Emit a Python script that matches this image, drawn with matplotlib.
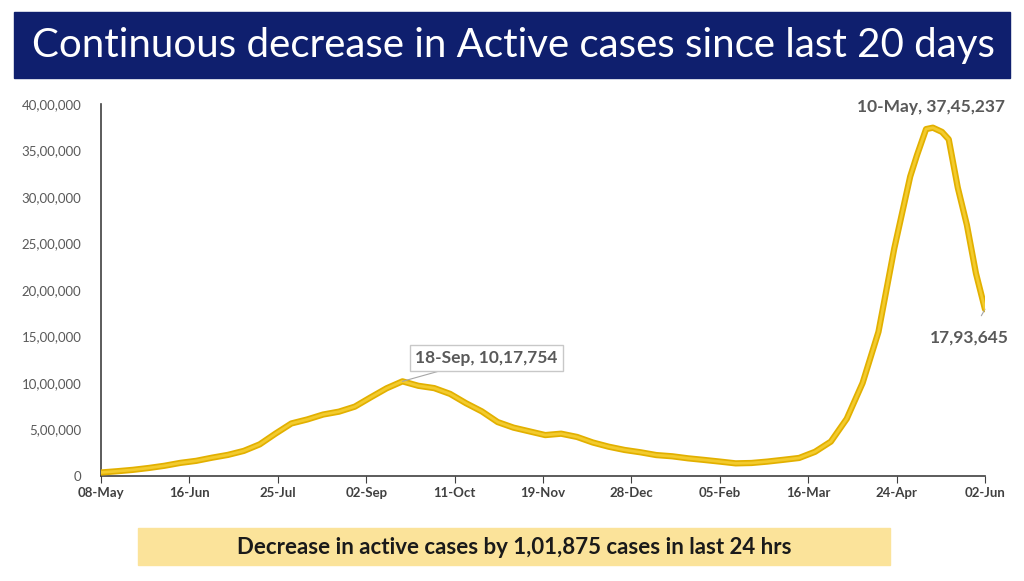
import pandas as pd
import matplotlib.pyplot as plt
from matplotlib.patches import Rectangle

plt.rcParams['font.family'] = ['Lato', 'DejaVu Sans']

# active cases (approximate, weekly-ish)
dates = ['2020-05-08', '2020-05-15', '2020-05-22', '2020-05-29', '2020-06-05',
         '2020-06-12', '2020-06-19', '2020-06-26', '2020-07-03', '2020-07-10',
         '2020-07-17', '2020-07-24', '2020-07-31', '2020-08-07', '2020-08-14',
         '2020-08-21', '2020-08-28', '2020-09-04', '2020-09-11', '2020-09-18',
         '2020-09-25', '2020-10-02', '2020-10-09', '2020-10-16', '2020-10-23',
         '2020-10-30', '2020-11-06', '2020-11-13', '2020-11-20', '2020-11-27',
         '2020-12-04', '2020-12-11', '2020-12-18', '2020-12-25', '2021-01-01',
         '2021-01-08', '2021-01-15', '2021-01-22', '2021-01-29', '2021-02-05',
         '2021-02-12', '2021-02-19', '2021-02-26', '2021-03-05', '2021-03-12',
         '2021-03-19', '2021-03-26', '2021-04-02', '2021-04-09', '2021-04-16',
         '2021-04-23', '2021-04-30', '2021-05-03', '2021-05-07', '2021-05-10',
         '2021-05-14', '2021-05-17', '2021-05-21', '2021-05-25', '2021-05-29',
         '2021-06-02']
active = [37900, 51000, 66000, 86000, 110000,
          141000, 163000, 197000, 227000, 270000,
          340000, 456000, 565000, 608000, 661000,
          692000, 746000, 846000, 943000, 1017754,
          970000, 945000, 883000, 783000, 695000,
          580000, 520000, 480000, 440000, 455000,
          420000, 360000, 315000, 280000, 255000,
          225000, 212000, 190000, 173000, 155000,
          136000, 140000, 155000, 174000, 194000,
          260000, 370000, 615000, 1000000, 1550000,
          2450000, 3220000, 3450000, 3730000, 3745237,
          3700000, 3620000, 3100000, 2700000, 2180000,
          1793645]

tick_dates = ['2020-05-08', '2020-06-16', '2020-07-25', '2020-09-02', '2020-10-11',
              '2020-11-19', '2020-12-28', '2021-02-05', '2021-03-16', '2021-04-24',
              '2021-06-02']
tick_labels = ['08-May', '16-Jun', '25-Jul', '02-Sep', '11-Oct', '19-Nov',
               '28-Dec', '05-Feb', '16-Mar', '24-Apr', '02-Jun']
y_ticks = [0, 500000, 1000000, 1500000, 2000000, 2500000, 3000000, 3500000, 4000000]
y_labels = ['0', '5,00,000', '10,00,000', '15,00,000', '20,00,000', '25,00,000',
            '30,00,000', '35,00,000', '40,00,000']

title = 'Continuous decrease in Active cases since last 20 days'
footer = 'Decrease in active cases by 1,01,875 cases in last 24 hrs'

x = pd.to_datetime(dates)
xt = pd.to_datetime(tick_dates)

fig = plt.figure(figsize=(10.24, 5.81), dpi=100)

# title banner
fig.patches.append(Rectangle((14 / 1024, 1 - 78 / 581), 996 / 1024, 66 / 581,
                             transform=fig.transFigure, color='#0F1F6E', zorder=0))
fig.text(0.501, 1 - 46 / 581, title, color='white', fontsize=29,
         ha='center', va='center')

# footer box
fig.patches.append(Rectangle((138 / 1024, 1 - 565 / 581), 752 / 1024, 37 / 581,
                             transform=fig.transFigure, color='#FBE39A', zorder=0))
fig.text(514 / 1024, 1 - 548 / 581, footer, color='#1a1a1a', fontsize=16,
         fontweight='bold', ha='center', va='center')

ax = fig.add_axes([101 / 1024, 1 - 476 / 581, 884 / 1024, 372 / 581])
ax.plot(x, active, color='#E2B000', lw=4.5, solid_capstyle='round', zorder=3)
ax.plot(x, active, color='#F3CB2E', lw=2, solid_capstyle='round', zorder=4)

ax.set_xlim(xt[0], xt[-1])
ax.set_ylim(0, 4000000)
ax.set_xticks(xt)
ax.set_xticklabels(tick_labels)
ax.set_yticks(y_ticks)
ax.set_yticklabels(y_labels)

for s in ['top', 'right']:
    ax.spines[s].set_visible(False)
for s in ['left', 'bottom']:
    ax.spines[s].set_color('#404040')
    ax.spines[s].set_linewidth(1.2)
ax.tick_params(axis='y', length=0, pad=14, labelsize=9.5, labelcolor='#595959')
ax.tick_params(axis='x', length=5, direction='out', color='#404040', pad=3,
               labelsize=9.5, labelcolor='#404040')
for lab in ax.get_xticklabels():
    lab.set_fontweight('bold')

# annotations
ax.annotate('18-Sep, 10,17,754', xy=(pd.Timestamp('2020-09-18'), 1017754),
            xytext=(pd.Timestamp('2020-10-25'), 1270000),
            ha='center', va='center', fontsize=12.5, fontweight='bold', color='#595959',
            bbox=dict(boxstyle='square,pad=0.3', fc='white', ec='#C8C8C8', lw=1),
            arrowprops=dict(arrowstyle='-', color='#A6A6A6', lw=0.8,
                            shrinkA=0, shrinkB=0), zorder=5)
ax.annotate('10-May, 37,45,237', xy=(pd.Timestamp('2021-05-10'), 3745237),
            xytext=(pd.Timestamp('2021-05-09'), 3970000),
            ha='center', va='center', fontsize=12.5, fontweight='bold',
            color='#595959', annotation_clip=False)
ax.annotate('17,93,645', xy=(pd.Timestamp('2021-06-02'), 1793645),
            xytext=(pd.Timestamp('2021-05-26'), 1490000),
            ha='center', va='center', fontsize=12.5, fontweight='bold', color='#595959',
            arrowprops=dict(arrowstyle='-', color='#A6A6A6', lw=0.8,
                            shrinkA=9, shrinkB=0), annotation_clip=False)

fig.savefig('out.png', dpi=100)
